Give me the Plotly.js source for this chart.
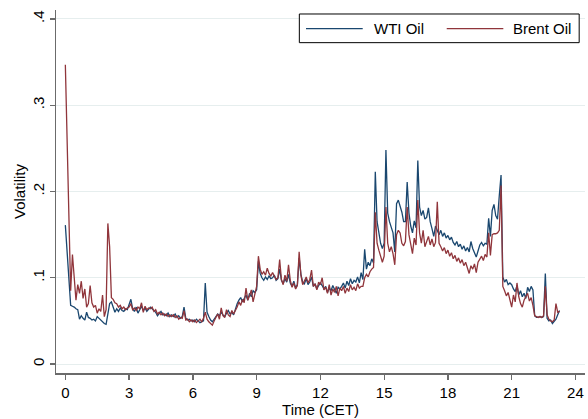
<!DOCTYPE html>
<html>
<head>
<meta charset="utf-8">
<script src="https://cdn.plot.ly/plotly-3.0.1.min.js"></script>
<style>
  html, body { margin: 0; padding: 0; background: #ffffff; }
  #chart { width: 588px; height: 419px; }
</style>
</head>
<body>
<div id="chart"></div>
<script>
// Intraday volatility, 5-minute bars, one row per hour (CET)
const wtiOil = [
  0.161, 0.128, 0.090, 0.068, 0.067, 0.066, 0.064, 0.063, 0.052, 0.056, 0.053, 0.051,
  0.060, 0.054, 0.053, 0.051, 0.052, 0.050, 0.055, 0.053, 0.050, 0.048, 0.047, 0.046,
  0.058, 0.070, 0.072, 0.066, 0.060, 0.064, 0.061, 0.065, 0.062, 0.061, 0.064, 0.063,
  0.068, 0.075, 0.064, 0.061, 0.066, 0.059, 0.063, 0.067, 0.062, 0.065, 0.061, 0.063,
  0.066, 0.064, 0.062, 0.060, 0.056, 0.059, 0.061, 0.057, 0.058, 0.056, 0.059, 0.055,
  0.057, 0.055, 0.058, 0.054, 0.056, 0.053, 0.055, 0.066, 0.053, 0.051, 0.052, 0.050,
  0.051, 0.049, 0.052, 0.050, 0.048, 0.049, 0.050, 0.094, 0.060, 0.055, 0.051, 0.049,
  0.052, 0.055, 0.058, 0.056, 0.060, 0.057, 0.055, 0.059, 0.062, 0.058, 0.060, 0.057,
  0.064, 0.070, 0.074, 0.077, 0.072, 0.076, 0.080, 0.074, 0.082, 0.078, 0.085, 0.083,
  0.086, 0.119, 0.105, 0.100, 0.097, 0.101, 0.098, 0.102, 0.099, 0.100, 0.103, 0.097,
  0.099, 0.110, 0.097, 0.093, 0.099, 0.095, 0.104, 0.094, 0.090, 0.096, 0.088, 0.092,
  0.123, 0.104, 0.095, 0.093, 0.099, 0.092, 0.095, 0.101, 0.090, 0.093, 0.087, 0.091,
  0.094, 0.091, 0.087, 0.090, 0.083, 0.088, 0.085, 0.091, 0.086, 0.082, 0.089, 0.087,
  0.090, 0.094, 0.088, 0.096, 0.091, 0.099, 0.093, 0.097, 0.095, 0.101, 0.094, 0.106,
  0.098, 0.133, 0.110, 0.118, 0.114, 0.122, 0.117, 0.223, 0.165, 0.150, 0.140, 0.134,
  0.140, 0.248, 0.175, 0.165, 0.158, 0.152, 0.130, 0.186, 0.190, 0.184, 0.176, 0.165,
  0.165, 0.211, 0.175, 0.160, 0.152, 0.166, 0.158, 0.236, 0.182, 0.172, 0.178, 0.168,
  0.170, 0.181, 0.165, 0.157, 0.148, 0.160, 0.154, 0.150, 0.155, 0.148, 0.152, 0.146,
  0.149, 0.144, 0.147, 0.141, 0.138, 0.142, 0.136, 0.139, 0.133, 0.137, 0.131, 0.135,
  0.130, 0.142, 0.134, 0.128, 0.124, 0.131, 0.138, 0.141, 0.137, 0.140, 0.139, 0.169,
  0.148, 0.178, 0.185, 0.172, 0.168, 0.195, 0.219, 0.101, 0.095, 0.098, 0.092, 0.094,
  0.092, 0.087, 0.084, 0.091, 0.080, 0.085, 0.078, 0.082, 0.076, 0.089, 0.084, 0.090,
  0.086, 0.056, 0.054, 0.054, 0.055, 0.054, 0.055, 0.105, 0.053, 0.050, 0.051, 0.047,
  0.049, 0.052, 0.057, 0.062
];

const brentOil = [
  0.347, 0.260, 0.170, 0.085, 0.127, 0.105, 0.074, 0.092, 0.082, 0.096, 0.076, 0.087,
  0.066, 0.070, 0.091, 0.071, 0.066, 0.068, 0.059, 0.064, 0.061, 0.080, 0.055, 0.063,
  0.163, 0.136, 0.077, 0.075, 0.071, 0.070, 0.066, 0.068, 0.064, 0.066, 0.063, 0.065,
  0.066, 0.070, 0.063, 0.065, 0.062, 0.066, 0.064, 0.071, 0.060, 0.067, 0.063, 0.065,
  0.064, 0.066, 0.061, 0.063, 0.058, 0.060, 0.057, 0.059, 0.056, 0.058, 0.055, 0.057,
  0.055, 0.057, 0.054, 0.056, 0.052, 0.054, 0.053, 0.062, 0.051, 0.052, 0.049, 0.051,
  0.049, 0.051, 0.048, 0.050, 0.052, 0.049, 0.053, 0.060, 0.052, 0.049, 0.047, 0.045,
  0.050, 0.054, 0.058, 0.052, 0.065, 0.056, 0.054, 0.063, 0.057, 0.055, 0.062, 0.058,
  0.062, 0.066, 0.072, 0.068, 0.075, 0.071, 0.088, 0.074, 0.079, 0.086, 0.072, 0.083,
  0.090, 0.125, 0.110, 0.104, 0.107, 0.103, 0.111, 0.105, 0.102, 0.106, 0.101, 0.098,
  0.100, 0.121, 0.098, 0.092, 0.103, 0.096, 0.115, 0.097, 0.089, 0.094, 0.087, 0.091,
  0.130, 0.103, 0.092, 0.097, 0.101, 0.094, 0.098, 0.109, 0.090, 0.093, 0.086, 0.095,
  0.092, 0.100, 0.086, 0.089, 0.082, 0.092, 0.080, 0.087, 0.083, 0.090, 0.079, 0.088,
  0.085, 0.090, 0.082, 0.088, 0.084, 0.092, 0.086, 0.089, 0.085, 0.093, 0.088, 0.090,
  0.090, 0.100, 0.104, 0.101, 0.107, 0.110, 0.112, 0.176, 0.140, 0.132, 0.124, 0.118,
  0.125, 0.182, 0.140, 0.130, 0.136, 0.128, 0.115, 0.150, 0.155, 0.152, 0.140, 0.137,
  0.142, 0.182, 0.150, 0.140, 0.128, 0.146, 0.138, 0.190, 0.152, 0.140, 0.155, 0.136,
  0.142, 0.148, 0.138, 0.145, 0.136, 0.141, 0.188, 0.140, 0.136, 0.131, 0.135, 0.128,
  0.132, 0.125, 0.129, 0.122, 0.126, 0.119, 0.123, 0.117, 0.121, 0.114, 0.118, 0.112,
  0.105, 0.114, 0.110, 0.116, 0.106, 0.118, 0.121, 0.125, 0.120, 0.127, 0.124, 0.152,
  0.126, 0.150, 0.151, 0.151, 0.152, 0.155, 0.207, 0.090, 0.085, 0.079, 0.083, 0.076,
  0.066, 0.080, 0.072, 0.094, 0.078, 0.070, 0.066, 0.074, 0.078, 0.082, 0.073, 0.077,
  0.068, 0.056, 0.055, 0.054, 0.055, 0.054, 0.056, 0.090, 0.057, 0.052, 0.050, 0.049,
  0.051, 0.070, 0.060, 0.061
];

const xTicks = [0, 3, 6, 9, 12, 15, 18, 21, 24];
const yTicks = [0, 0.1, 0.2, 0.3, 0.4];
const yTickText = ["0", ".1", ".2", ".3", ".4"];
const seriesNames = ["WTI Oil", "Brent Oil"];

// Sampling grid: one bar every 5 minutes, expressed in hours
const minutesPerBar = 5;
const timeCET = wtiOil.map((_, i) => i * minutesPerBar / 60);

const navy = "#1a476f";
const maroon = "#90353b";
const axisGray = "#6b6b6b";
const font = "Liberation Sans, Arial, Helvetica, sans-serif";

const traces = [
  { x: timeCET, y: wtiOil, name: seriesNames[0], type: "scatter", mode: "lines",
    line: { color: navy, width: 1.3 }, showlegend: false },
  { x: timeCET, y: brentOil, name: seriesNames[1], type: "scatter", mode: "lines",
    line: { color: maroon, width: 1.3 }, showlegend: false }
];

// Legend drawn as a framed key with long line samples
const keyY = 0.9485;
const shapes = [
  { type: "rect", xref: "paper", yref: "paper", x0: 0.46, x1: 0.989, y0: 0.91, y1: 0.989,
    line: { color: "#000000", width: 1 }, fillcolor: "#ffffff", layer: "above" },
  { type: "line", xref: "paper", yref: "paper", x0: 0.4726, x1: 0.5798, y0: keyY, y1: keyY,
    line: { color: navy, width: 1.3 }, layer: "above" },
  { type: "line", xref: "paper", yref: "paper", x0: 0.7386, x1: 0.8456, y0: keyY, y1: keyY,
    line: { color: maroon, width: 1.3 }, layer: "above" }
];
const annotations = [
  { xref: "paper", yref: "paper", x: 0.5965, y: keyY, xanchor: "left", yanchor: "middle",
    text: seriesNames[0], showarrow: false, font: { family: font, size: 15, color: "#000" } },
  { xref: "paper", yref: "paper", x: 0.861, y: keyY, xanchor: "left", yanchor: "middle",
    text: seriesNames[1], showarrow: false, font: { family: font, size: 15, color: "#000" } }
];

const layout = {
  width: 588, height: 419,
  margin: { l: 56, r: 3, t: 10, b: 46, pad: 0 },
  paper_bgcolor: "#ffffff", plot_bgcolor: "#ffffff",
  font: { family: font, size: 15, color: "#000000" },
  showlegend: false,
  xaxis: {
    range: [-0.44, 24.45], tickvals: xTicks, ticktext: xTicks.map(String),
    ticks: "outside", ticklen: 5, tickwidth: 1.3, tickcolor: axisGray,
    showline: true, linecolor: axisGray, linewidth: 1.5,
    showgrid: false, zeroline: false,
    tickfont: { family: font, size: 15, color: "#000" },
    title: { text: "Time (CET)", font: { family: font, size: 15, color: "#000" }, standoff: 2 }
  },
  yaxis: {
    range: [-0.0104, 0.4104], tickvals: yTicks, ticktext: yTickText, tickangle: -90,
    ticks: "outside", ticklen: 5, tickwidth: 1.3, tickcolor: axisGray,
    showline: true, linecolor: axisGray, linewidth: 1.5,
    showgrid: true, gridcolor: "#e6eeee", gridwidth: 1, zeroline: false,
    tickfont: { family: font, size: 15, color: "#000" },
    title: { text: "Volatility", font: { family: font, size: 15, color: "#000" }, standoff: 0 }
  },
  shapes: shapes,
  annotations: annotations
};

Plotly.newPlot("chart", traces, layout, { staticPlot: true, displayModeBar: false });
</script>
</body>
</html>
